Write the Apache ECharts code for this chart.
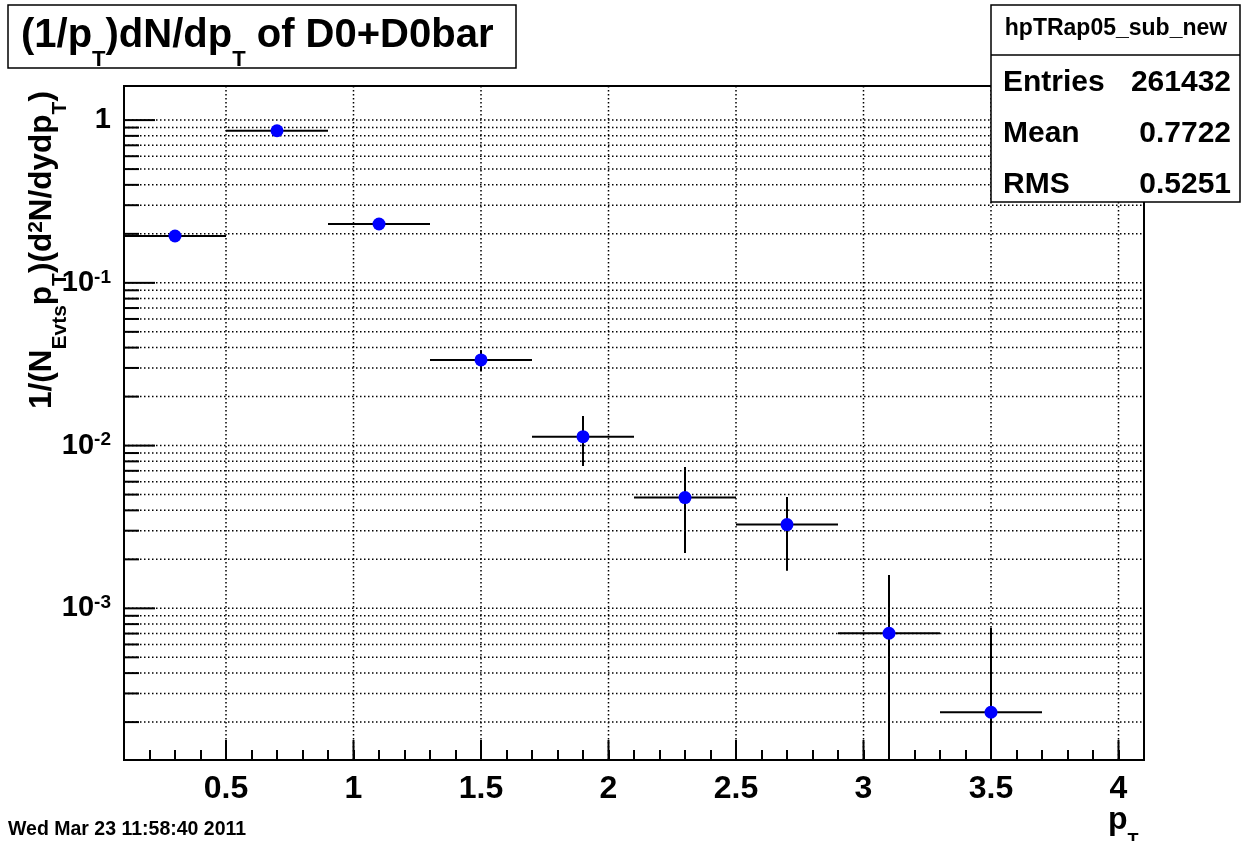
<!DOCTYPE html>
<html>
<head>
<meta charset="utf-8">
<script src="https://cdn.jsdelivr.net/npm/echarts@6/dist/echarts.min.js"></script>
<style>
  html, body { margin: 0; padding: 0; background: #fff; }
  #chart { width: 1241px; height: 841px; }
</style>
</head>
<body>
<div id="chart"></div>
<script>
// bin centres, yields and errors
const ptCenters = [0.3, 0.7, 1.1, 1.5, 1.9, 2.3, 2.7, 3.1, 3.5]
const yields = [0.194, 0.860, 0.230, 0.0336, 0.01135, 0.00479, 0.00327, 0.000703, 0.000230]
const yieldErrors = [0.006, 0.02, 0.008, 0.005, 0.00385, 0.0026, 0.00157, 0.0009, 0.00053]
const binHalfWidths = [0.2, 0.2, 0.2, 0.2, 0.2, 0.2, 0.2, 0.2, 0.2]

// axis ranges / ticks
const xMin = 0.1
const xMax = 4.1
const xMajorTicks = [0.5, 1, 1.5, 2, 2.5, 3, 3.5, 4]
const yMin = 1.17e-4
const yMax = 1.62
const yDecades = [-4, -3, -2, -1, 0]

// stats box
const statsName = 'hpTRap05_sub_new'
const statsLabels = ['Entries', 'Mean', 'RMS']
const statsValues = ['261432', '0.7722', '0.5251']

const FONT = 'Liberation Sans'

// grid lines + ticks: [x, y, kind]  kind 0 = y major, 1 = y minor, 2 = x major
const gridData = []
yDecades.forEach((e) => {
  for (let m = 1; m <= 9; m++) {
    const v = m * Math.pow(10, e)
    if (v >= yMin && v <= yMax) gridData.push([xMin, v, m === 1 ? 0 : 1])
  }
})
xMajorTicks.forEach((v) => gridData.push([v, 1, 2]))

const pointData = ptCenters.map((x, i) => [x, yields[i], binHalfWidths[i], yieldErrors[i]])

const dotted = { stroke: '#000', lineWidth: 1.5, lineDash: [1.5, 2.5] }
const solid = { stroke: '#000', lineWidth: 2 }

function renderGrid (params, api) {
  const cs = params.coordSys
  const kind = api.value(2)
  if (kind === 2) {
    const px = api.coord([api.value(0), 1])[0]
    return {
      type: 'group',
      children: [
        { type: 'line', shape: { x1: px, y1: cs.y, x2: px, y2: cs.y + cs.height }, style: dotted },
        { type: 'line', shape: { x1: px, y1: cs.y + cs.height, x2: px, y2: cs.y + cs.height - 20 }, style: solid }
      ]
    }
  }
  const py = api.coord([xMin, api.value(1)])[1]
  const len = kind === 0 ? 31 : 15
  return {
    type: 'group',
    children: [
      { type: 'line', shape: { x1: cs.x, y1: py, x2: cs.x + cs.width, y2: py }, style: dotted },
      { type: 'line', shape: { x1: cs.x, y1: py, x2: cs.x + len, y2: py }, style: solid }
    ]
  }
}

function renderErrors (params, api) {
  const cs = params.coordSys
  const x = api.value(0)
  const y = api.value(1)
  const ex = api.value(2)
  const ey = api.value(3)
  const c = api.coord([x, y])
  const left = api.coord([x - ex, y])[0]
  const right = api.coord([x + ex, y])[0]
  const top = Math.max(api.coord([x, y + ey])[1], cs.y)
  const lo = y - ey
  const bottom = lo > yMin ? api.coord([x, lo])[1] : cs.y + cs.height
  return {
    type: 'group',
    children: [
      { type: 'line', shape: { x1: left, y1: c[1], x2: right, y2: c[1] }, style: solid },
      { type: 'line', shape: { x1: c[0], y1: top, x2: c[0], y2: bottom }, style: solid }
    ]
  }
}

const chart = echarts.init(document.getElementById('chart'))

const option = {
  animation: false,
  backgroundColor: '#fff',
  textStyle: { fontFamily: FONT, fontWeight: 'bold', color: '#000' },
  grid: {
    left: 124, right: 97, top: 86, bottom: 81,
    show: true, borderColor: '#000', borderWidth: 2
  },
  xAxis: {
    type: 'value',
    min: xMin,
    max: xMax,
    interval: 0.1,
    axisLine: { lineStyle: { color: '#000', width: 2 } },
    axisTick: { inside: true, length: 10, lineStyle: { color: '#000', width: 2 } },
    splitLine: { show: false },
    axisLabel: {
      margin: 13,
      fontSize: 32,
      fontWeight: 'bold',
      fontFamily: FONT,
      color: '#000',
      formatter: (v) => {
        const r = Math.round(v * 10) / 10
        if (Math.abs(r * 2 - Math.round(r * 2)) > 1e-9) return ''
        if (r < 0.45 || r > 4.05) return ''
        return String(r)
      }
    }
  },
  yAxis: {
    type: 'log',
    logBase: 10,
    min: yMin,
    max: yMax,
    axisLine: { lineStyle: { color: '#000', width: 2 } },
    axisTick: { show: false },
    splitLine: { show: false },
    axisLabel: {
      margin: 13,
      color: '#000',
      formatter: (v) => {
        const l = Math.log10(v)
        const e = Math.round(l)
        if (Math.abs(l - e) > 1e-6) return ''
        if (e === 0) return '{b|1}'
        return '{b|10}{s|' + e + '}'
      },
      rich: {
        b: { fontSize: 29, fontWeight: 'bold', fontFamily: FONT, color: '#000', lineHeight: 30 },
        s: { fontSize: 19, fontWeight: 'bold', fontFamily: FONT, color: '#000', lineHeight: 20, verticalAlign: 'top' }
      }
    }
  },
  series: [
    {
      type: 'custom',
      name: 'grid',
      silent: true,
      z: 1,
      renderItem: renderGrid,
      data: gridData
    },
    {
      type: 'custom',
      name: 'errors',
      silent: true,
      z: 2,
      renderItem: renderErrors,
      data: pointData
    },
    {
      type: 'scatter',
      name: 'D0+D0bar',
      z: 3,
      symbol: 'circle',
      symbolSize: 13,
      itemStyle: { color: '#0000ff', opacity: 1 },
      data: pointData.map((d) => [d[0], d[1]])
    }
  ],
  graphic: [
    // title box
    {
      type: 'rect',
      shape: { x: 8, y: 5, width: 508, height: 63 },
      style: { fill: '#fff', stroke: '#000', lineWidth: 1.5 },
      z: 10
    },
    {
      type: 'text',
      x: 21,
      y: 16,
      z: 11,
      style: {
        text: '{m|(1/p}{s|T}{m|)dN/dp}{s|T}{m| of D0+D0bar}',
        rich: {
          m: { fontSize: 40, fontWeight: 'bold', fontFamily: FONT, fill: '#000', lineHeight: 40, verticalAlign: 'top' },
          s: { fontSize: 22, fontWeight: 'bold', fontFamily: FONT, fill: '#000', lineHeight: 55, verticalAlign: 'bottom' }
        }
      }
    },
    // stats box
    {
      type: 'rect',
      shape: { x: 991, y: 5, width: 249, height: 197 },
      style: { fill: '#fff', stroke: '#000', lineWidth: 1.5 },
      z: 10
    },
    {
      type: 'line',
      shape: { x1: 991, y1: 55, x2: 1240, y2: 55 },
      style: { stroke: '#000', lineWidth: 1.5 },
      z: 11
    },
    {
      type: 'text',
      x: 1116,
      y: 29,
      z: 11,
      style: {
        text: statsName,
        fontSize: 23, fontWeight: 'bold', fontFamily: FONT, fill: '#000',
        align: 'center', verticalAlign: 'middle'
      }
    },
    ...statsLabels.map((lab, i) => ({
      type: 'text',
      x: 1003,
      y: 83 + i * 51,
      z: 11,
      style: {
        text: lab,
        fontSize: 30, fontWeight: 'bold', fontFamily: FONT, fill: '#000',
        align: 'left', verticalAlign: 'middle'
      }
    })),
    ...statsValues.map((val, i) => ({
      type: 'text',
      x: 1231,
      y: 83 + i * 51,
      z: 11,
      style: {
        text: val,
        fontSize: 30, fontWeight: 'bold', fontFamily: FONT, fill: '#000',
        align: 'right', verticalAlign: 'middle'
      }
    })),
    // y axis title (rotated)
    {
      type: 'text',
      x: 26,
      y: 409,
      rotation: Math.PI / 2,
      z: 11,
      style: {
        text: '{m|1/(N}{s|Evts}{m|p}{s|T}{m|)(d}{u|2}{m|N/dydp}{s|T}{m|)}',
        rich: {
          m: { fontSize: 31.5, fontWeight: 'bold', fontFamily: FONT, fill: '#000', lineHeight: 31, verticalAlign: 'top' },
          s: { fontSize: 21, fontWeight: 'bold', fontFamily: FONT, fill: '#000', lineHeight: 45, verticalAlign: 'bottom' },
          u: { fontSize: 21, fontWeight: 'bold', fontFamily: FONT, fill: '#000', lineHeight: 21, verticalAlign: 'top' }
        }
      }
    },
    // x axis title
    {
      type: 'text',
      x: 1108,
      y: 804,
      z: 11,
      style: {
        text: '{m|p}{s|T}',
        rich: {
          m: { fontSize: 32, fontWeight: 'bold', fontFamily: FONT, fill: '#000', lineHeight: 32, verticalAlign: 'top' },
          s: { fontSize: 18, fontWeight: 'bold', fontFamily: FONT, fill: '#000', lineHeight: 46, verticalAlign: 'bottom' }
        }
      }
    },
    // date stamp
    {
      type: 'text',
      x: 8,
      y: 830,
      z: 11,
      style: {
        text: 'Wed Mar 23 11:58:40 2011',
        fontSize: 19.5, fontWeight: 'bold', fontFamily: FONT, fill: '#000',
        align: 'left', verticalAlign: 'middle'
      }
    }
  ]
}

chart.setOption(option)
</script>
</body>
</html>
